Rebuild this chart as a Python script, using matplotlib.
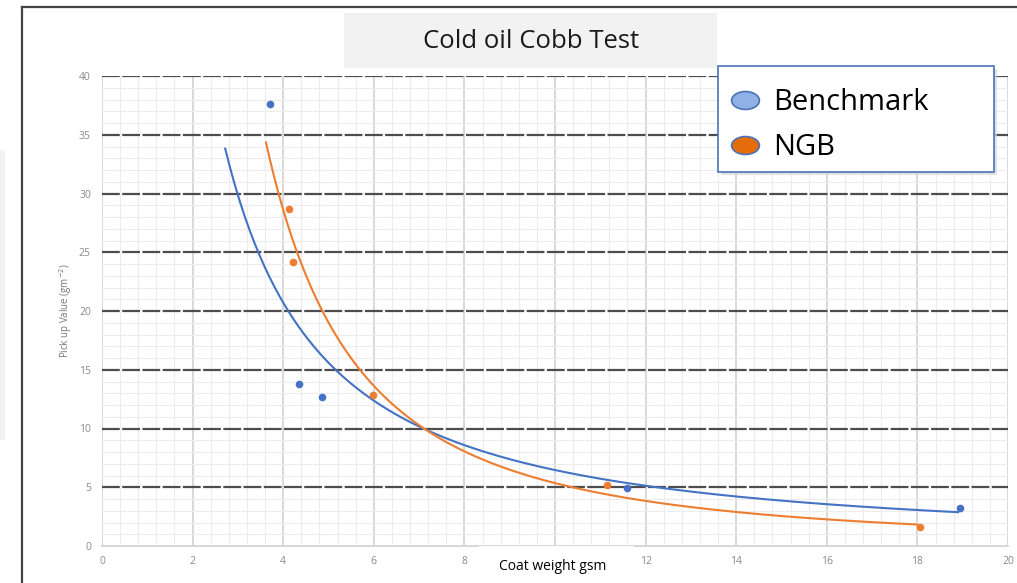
import numpy as np
import matplotlib
matplotlib.use("Agg")
import matplotlib.pyplot as plt
from matplotlib.lines import Line2D
from matplotlib.patches import Rectangle
from matplotlib.path import Path
from matplotlib.transforms import Affine2D
from matplotlib.ticker import MultipleLocator

# ---- data ----
title = "Cold oil Cobb Test"
x_label = "Coat weight gsm"
y_label = "Pick up Value (gm$^{-2}$)"
series_names = ["Benchmark", "NGB"]
bench_x = [3.7, 4.35, 4.85, 11.6, 18.95]
bench_y = [37.6, 13.8, 12.7, 4.95, 3.25]
ngb_x = [4.13, 4.22, 5.98, 11.15, 18.05]
ngb_y = [28.7, 24.2, 12.85, 5.2, 1.65]
bench_trend_range = [2.72, 18.9]
ngb_trend_range = [3.62, 18.0]
x_ticks = [0, 2, 4, 6, 8, 10, 12, 14, 16, 18, 20]
x_tick_labels = ["0", "2", "4", "6", "8", "", "12", "14", "16", "18", "20"]
y_ticks = [0, 5, 10, 15, 20, 25, 30, 35, 40]

W, H = 1017, 583
fig = plt.figure(figsize=(W / 100, H / 100), dpi=100)
fig.patch.set_facecolor("white")


def fx(x):
    return x / W


def fy(y):
    return 1 - y / H


ax = fig.add_axes([fx(102), fy(546), fx(1008) - fx(102), fy(76) - fy(546)])
ax.set_xlim(0, 20)
ax.set_ylim(0, 40)
ax.set_xticks(x_ticks)
ax.set_xticklabels(x_tick_labels)
ax.set_yticks(y_ticks)
ax.xaxis.set_minor_locator(MultipleLocator(0.4))
ax.yaxis.set_minor_locator(MultipleLocator(1))
ax.set_axisbelow(True)
ax.grid(which="minor", color="#ececec", lw=0.8)
ax.grid(which="major", axis="x", color="#d2d2d2", lw=1.2)
ax.grid(which="major", axis="y", color="#4d4d4d", lw=1.6, linestyle=(0, (8.0, 1.1)))
ax.yaxis.get_gridlines()[0].set_visible(False)

for s in ["top", "right", "left"]:
    ax.spines[s].set_visible(False)
ax.spines["bottom"].set_color("#d0d0d0")
ax.spines["bottom"].set_linewidth(1.2)
ax.tick_params(which="both", length=0)
ax.tick_params(axis="x", pad=7, labelsize=7.5, labelcolor="#8a8a8a")
ax.tick_params(axis="y", pad=8, labelsize=7.5, labelcolor="#8a8a8a")
for lab in ax.get_xticklabels() + ax.get_yticklabels():
    lab.set_fontfamily("Open Sans")
ax.set_ylabel(y_label, fontsize=7, color="#777777", family="Open Sans", labelpad=3.5)

c_blue = "#4472c4"
c_orange = "#ed7d31"


def power_fit(x, y, rng):
    b, lna = np.polyfit(np.log(x), np.log(y), 1)
    xs = np.linspace(rng[0], rng[1], 300)
    return xs, np.exp(lna) * xs ** b


xs, ys = power_fit(bench_x, bench_y, bench_trend_range)
ax.plot(xs, ys, color=c_blue, lw=1.5, zorder=3)
xs, ys = power_fit(ngb_x, ngb_y, ngb_trend_range)
ax.plot(xs, ys, color=c_orange, lw=1.5, zorder=3)
ax.plot(bench_x, bench_y, "o", color=c_blue, ms=5.5, mew=0, zorder=4)
ax.plot(ngb_x, ngb_y, "o", color=c_orange, ms=5.5, mew=0, zorder=4)

# outer frame
fig.add_artist(Line2D([fx(22), fx(22)], [fy(7), fy(590)], color="#444444", lw=1.6))
fig.add_artist(Line2D([fx(22), fx(1020)], [fy(7), fy(7)], color="#444444", lw=1.6))
fig.add_artist(Rectangle((fx(0), fy(440)), fx(5), fy(150) - fy(440), facecolor="#f2f2f2",
                         edgecolor="none"))

# title box
fig.add_artist(Rectangle((fx(344), fy(68)), fx(717) - fx(344), fy(13) - fy(68),
                         facecolor="#f2f2f2", edgecolor="none"))
fig.text(fx(531), fy(41.5), title, ha="center", va="center", fontsize=18.5,
         family="Open Sans", color="#1a1a1a")

# x label box
fig.add_artist(Rectangle((fx(479), fy(590)), fx(634) - fx(479), fy(545.5) - fy(590),
                         facecolor="white", edgecolor="none", zorder=5))
fig.text(fx(553), fy(566), x_label, ha="center", va="center", fontsize=10,
         family="Open Sans", color="black", zorder=6)

# legend box (frame drawn separately) + legend
fig.add_artist(Rectangle((fx(721), fy(175)), fx(994) - fx(718), fy(66) - fy(172),
                         facecolor="#d6d6d6", edgecolor="none", alpha=0.7, zorder=6))
fig.add_artist(Rectangle((fx(718), fy(172)), fx(994) - fx(718), fy(66) - fy(172),
                         facecolor="white", edgecolor="#4a72b8", lw=1.2, zorder=6.5))
ell = Path.unit_circle().transformed(Affine2D().scale(1.55, 1.0))
handles = [
    Line2D([], [], marker=ell, linestyle="none", markersize=20, markerfacecolor="#8fb1e3",
           markeredgecolor="#4a72b8", markeredgewidth=1.2),
    Line2D([], [], marker=ell, linestyle="none", markersize=20, markerfacecolor="#e46c0a",
           markeredgecolor="#4a72b8", markeredgewidth=1.2),
]
leg = fig.legend(handles, series_names, loc="upper left",
                 bbox_to_anchor=(fx(730.5), fy(88)), borderaxespad=0, borderpad=0,
                 prop={"family": "Open Sans", "size": 21}, frameon=False,
                 handlelength=1.0, handletextpad=0.45, labelspacing=0.56)
leg.set_zorder(7)

fig.savefig("out.png", dpi=100)
